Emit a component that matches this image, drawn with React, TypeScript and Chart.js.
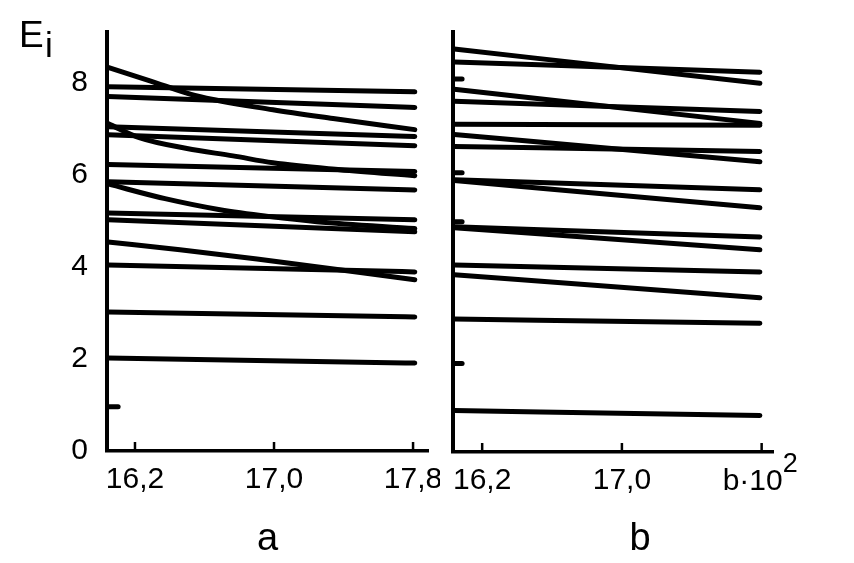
import React, { useEffect, useRef } from "react";
import { Chart, registerables } from "chart.js";

Chart.register(...registerables);

const FONT = "'Liberation Sans', Arial, Helvetica, sans-serif";

// ---------- shared axis data ----------
const xTickValues = [16.2, 17.0, 17.8];
const aXTickLabels = ["16,2", "17,0", "17,8"];
const bXTickLabels = ["16,2", "17,0", ""];
const bUnitLabel = "b·10";
const bUnitExponent = "2";
const yTickValues = [0, 2, 4, 6, 8];
const yMax = 9.1;
const yAxisTitle = "E";
const yAxisTitleSub = "i";
const captionA = "a";
const captionB = "b";

// ---------- panel a ----------
const aXMin = 16.039;
const aXMax = 17.886;
const aLineStartX = 16.045;
const aLineEndX = 17.81;
const aLevelsStart = [7.91, 7.7, 7.04, 6.87, 6.22, 5.85, 5.17, 5.02, 4.04, 3.02, 2.02];
const aLevelsEnd = [7.8, 7.46, 6.83, 6.63, 6.07, 5.67, 5.02, 4.76, 3.89, 2.91, 1.91];

const aCurve1X = [16.045, 16.286, 16.545, 16.994, 17.34, 17.81];
const aCurve1Y = [8.33, 8.04, 7.72, 7.41, 7.22, 6.98];
const aCurve2X = [16.045, 16.229, 16.499, 16.764, 16.994, 17.38, 17.81];
const aCurve2Y = [7.11, 6.8, 6.57, 6.41, 6.26, 6.11, 5.98];
const aCurve3X = [16.045, 16.373, 16.689, 16.977, 17.247, 17.81];
const aCurve3Y = [5.8, 5.48, 5.24, 5.09, 4.98, 4.83];
const aCurve4X = [16.045, 16.459, 16.902, 17.81];
const aCurve4Y = [4.54, 4.37, 4.17, 3.72];

const aStubY = [0.96];
const aStubLength = 0.058;

// ---------- panel b ----------
const bXMin = 16.033;
const bXMax = 17.865;
const bLineStartX = 16.04;
const bLineEndX = 17.79;
const bLevelsStart = [8.73, 8.45, 7.86, 7.6, 7.1, 6.88, 6.62, 5.9, 5.88, 4.88, 4.86, 4.05, 3.84, 2.88, 0.9];
const bLevelsEnd = [7.99, 8.23, 7.12, 7.38, 7.08, 6.29, 6.51, 5.68, 5.29, 4.66, 4.38, 3.9, 3.34, 2.79, 0.79];
const bStubY = [8.08, 6.05, 4.99, 1.92];
const bStubLength = 0.045;

// ---------- helpers ----------
type Pt = { x: number; y: number };

function levelSeries(start: number[], end: number[], x0: number, x1: number): Pt[][] {
  return start.map((s, i) => [
    { x: x0, y: s },
    { x: x1, y: end[i] },
  ]);
}

function curveSeries(xs: number[], ys: number[]): Pt[] {
  return xs.map((x, i) => ({ x, y: ys[i] }));
}

function stubSeries(ys: number[], x0: number, len: number): Pt[][] {
  return ys.map((y) => [
    { x: x0, y },
    { x: x0 + len, y },
  ]);
}

function toDatasets(series: Pt[][]) {
  return series.map((data) => ({
    data,
    showLine: true,
    borderColor: "#000",
    backgroundColor: "#000",
    borderWidth: 5,
    pointRadius: 0,
    pointHoverRadius: 0,
    borderCapStyle: "round" as const,
    borderJoinStyle: "round" as const,
    cubicInterpolationMode: "monotone" as const,
    fill: false,
  }));
}

const innerTicksPlugin = {
  id: "innerTicks",
  afterDraw(chart: any) {
    const { ctx, chartArea, scales } = chart;
    const xs = scales.x;
    ctx.save();
    ctx.strokeStyle = "#000";
    ctx.lineWidth = 2.5;
    for (const v of xTickValues) {
      const px = xs.getPixelForValue(v);
      ctx.beginPath();
      ctx.moveTo(px, chartArea.bottom);
      ctx.lineTo(px, chartArea.bottom - 9);
      ctx.stroke();
    }
    ctx.restore();
  },
};

function baseConfig(
  datasets: any[],
  opts: {
    xMin: number;
    xMax: number;
    xLabels: string[];
    yWidth: number;
    xHeight: number;
    padRight: number;
    showYTicks: boolean;
  },
  extraPlugin: any
) {
  return {
    type: "scatter" as const,
    data: { datasets },
    options: {
      responsive: false,
      animation: false as const,
      events: [] as any[],
      layout: { padding: { top: 32, right: opts.padRight, left: 0, bottom: 0 } },
      plugins: {
        legend: { display: false },
        tooltip: { enabled: false },
        title: { display: false },
      },
      scales: {
        x: {
          type: "linear" as const,
          min: opts.xMin,
          max: opts.xMax,
          afterBuildTicks: (s: any) => {
            s.ticks = xTickValues.map((v) => ({ value: v }));
          },
          afterFit: (s: any) => {
            s.height = opts.xHeight;
            s.paddingLeft = 0;
            s.paddingRight = 0;
          },
          grid: { display: false, drawTicks: false },
          border: { display: true, color: "#000", width: 3.5 },
          ticks: {
            autoSkip: false,
            maxRotation: 0,
            minRotation: 0,
            padding: 10.5,
            color: "#000",
            font: { size: 30, family: FONT },
            callback: (_v: any, i: number) => opts.xLabels[i],
          },
        },
        y: {
          type: "linear" as const,
          min: 0,
          max: yMax,
          afterBuildTicks: (s: any) => {
            s.ticks = yTickValues.map((v) => ({ value: v }));
          },
          afterFit: (s: any) => {
            s.width = opts.yWidth;
            s.paddingTop = 0;
            s.paddingBottom = 0;
          },
          grid: { display: false, drawTicks: false },
          border: { display: true, color: "#000", width: 4 },
          ticks: {
            display: opts.showYTicks,
            padding: 19,
            color: "#000",
            font: { size: 30, family: FONT },
            callback: (v: any) => String(v),
          },
        },
      },
    },
    plugins: [innerTicksPlugin, extraPlugin],
  };
}

const panelATextPlugin = {
  id: "panelAText",
  afterDraw(chart: any) {
    const { ctx, chartArea } = chart;
    ctx.save();
    ctx.fillStyle = "#000";
    ctx.textBaseline = "alphabetic";
    ctx.textAlign = "left";
    ctx.font = `37px ${FONT}`;
    ctx.fillText(yAxisTitle, 19, 47);
    ctx.font = `35px ${FONT}`;
    ctx.fillText(yAxisTitleSub, 45, 57);
    ctx.textAlign = "center";
    ctx.font = `38px ${FONT}`;
    ctx.fillText(captionA, (chartArea.left + chartArea.right) / 2, 550);
    ctx.restore();
  },
};

const panelBTextPlugin = {
  id: "panelBText",
  afterDraw(chart: any) {
    const { ctx, chartArea, scales } = chart;
    const px = scales.x.getPixelForValue(xTickValues[2]);
    ctx.save();
    ctx.fillStyle = "#000";
    ctx.textBaseline = "alphabetic";
    ctx.textAlign = "left";
    ctx.font = `30px ${FONT}`;
    const lx = px - 39;
    ctx.fillText(bUnitLabel, lx, chartArea.bottom + 38);
    const w = ctx.measureText(bUnitLabel).width;
    ctx.font = `27px ${FONT}`;
    ctx.fillText(bUnitExponent, lx + w, chartArea.bottom + 20);
    ctx.textAlign = "center";
    ctx.font = `38px ${FONT}`;
    ctx.fillText(captionB, chartArea.left + 187, 550);
    ctx.restore();
  },
};

function PanelCanvas({ left, width, makeConfig }: { left: number; width: number; makeConfig: () => any }) {
  const ref = useRef<HTMLCanvasElement>(null);
  useEffect(() => {
    if (!ref.current) return;
    const chart = new Chart(ref.current, makeConfig());
    return () => chart.destroy();
  }, []);
  return (
    <canvas
      ref={ref}
      width={width}
      height={563}
      style={{ position: "absolute", left, top: 0, width, height: 563, display: "block" }}
    />
  );
}

export default function App() {
  const makeA = () => {
    const series: Pt[][] = [
      ...levelSeries(aLevelsStart, aLevelsEnd, aLineStartX, aLineEndX),
      curveSeries(aCurve1X, aCurve1Y),
      curveSeries(aCurve2X, aCurve2Y),
      curveSeries(aCurve3X, aCurve3Y),
      curveSeries(aCurve4X, aCurve4Y),
      ...stubSeries(aStubY, aLineStartX, aStubLength),
    ];
    return baseConfig(
      toDatasets(series),
      {
        xMin: aXMin,
        xMax: aXMax,
        xLabels: aXTickLabels,
        yWidth: 107,
        xHeight: 112,
        padRight: 12,
        showYTicks: true,
      },
      panelATextPlugin
    );
  };
  const makeB = () => {
    const series: Pt[][] = [
      ...levelSeries(bLevelsStart, bLevelsEnd, bLineStartX, bLineEndX),
      ...stubSeries(bStubY, bLineStartX, bStubLength),
    ];
    return baseConfig(
      toDatasets(series),
      {
        xMin: bXMin,
        xMax: bXMax,
        xLabels: bXTickLabels,
        yWidth: 13,
        xHeight: 111,
        padRight: 81,
        showYTicks: false,
      },
      panelBTextPlugin
    );
  };
  return (
    <div style={{ position: "absolute", left: 0, top: 0, width: 854, height: 563, background: "#fff", overflow: "hidden" }}>
      <PanelCanvas left={0} width={440} makeConfig={makeA} />
      <PanelCanvas left={440} width={414} makeConfig={makeB} />
    </div>
  );
}
